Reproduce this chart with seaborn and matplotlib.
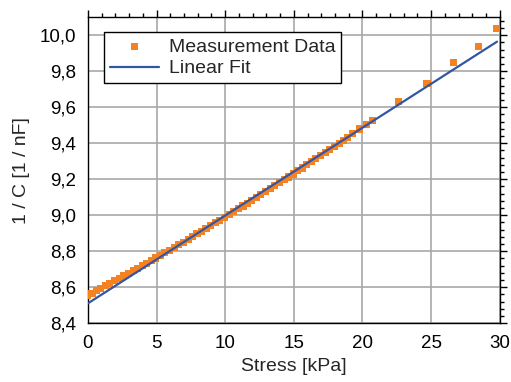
import seaborn as sns
import pandas as pd
import matplotlib.pyplot as plt
from matplotlib.ticker import MultipleLocator, FuncFormatter

stress = [0.0, 0.3, 0.6, 0.95, 1.3, 1.6, 1.95, 2.3, 2.6, 2.95, 3.3, 3.6, 3.95, 4.3, 4.6, 4.95,
          5.3, 5.6, 5.95, 6.3, 6.6, 6.95, 7.3, 7.6, 7.95, 8.3, 8.6, 8.95, 9.3, 9.6, 9.95,
          10.3, 10.6, 10.95, 11.3, 11.6, 11.95, 12.3, 12.6, 12.95, 13.3, 13.6, 13.95, 14.3,
          14.6, 14.95, 15.3, 15.6, 15.95, 16.3, 16.6, 16.95, 17.3, 17.6, 17.95, 18.3, 18.6,
          18.9, 19.3, 19.8, 20.3, 20.7, 22.6, 24.7, 26.6, 28.45, 29.8]
inv_c = [8.555, 8.567, 8.579, 8.594, 8.608, 8.620, 8.635, 8.649, 8.662, 8.677, 8.691, 8.704,
         8.719, 8.734, 8.747, 8.762, 8.777, 8.791, 8.806, 8.822, 8.835, 8.850, 8.866, 8.880,
         8.896, 8.911, 8.925, 8.941, 8.957, 8.971, 8.988, 9.004, 9.018, 9.035, 9.051, 9.066,
         9.082, 9.099, 9.114, 9.131, 9.148, 9.163, 9.180, 9.197, 9.212, 9.229, 9.247, 9.262,
         9.280, 9.297, 9.313, 9.331, 9.349, 9.364, 9.382, 9.400, 9.416, 9.432, 9.453, 9.479,
         9.506, 9.528, 9.630, 9.730, 9.846, 9.935, 10.035]

# linear fit end points
fit_x = [0.0, 29.8]
fit_y = [8.51, 9.964]

df = pd.DataFrame({"Stress": stress, "invC": inv_c})
df_fit = pd.DataFrame({"Stress": fit_x, "invC": fit_y})

sns.set_style("white")
plt.rcParams['font.family'] = ['Liberation Sans', 'DejaVu Sans']

fig = plt.figure(figsize=(5.11, 3.82), dpi=100)
ax = fig.add_axes([0.172, 0.154, 0.806, 0.801])
ax.grid(True, which="major", color="#a8a8a8", linewidth=1.2, zorder=0)
ax.set_axisbelow(True)

sns.scatterplot(data=df, x="Stress", y="invC", ax=ax, marker="s", s=26, color="#f58220",
                edgecolor="none", label="Measurement Data", zorder=3)
sns.lineplot(data=df_fit, x="Stress", y="invC", ax=ax, color="#3355a5", linewidth=1.6,
             label="Linear Fit", zorder=4)

ax.set_xlim(0, 30)
ax.set_ylim(8.4, 10.1)
ax.xaxis.set_major_locator(MultipleLocator(5))
ax.xaxis.set_minor_locator(MultipleLocator(1))
ax.yaxis.set_major_locator(MultipleLocator(0.2))
ax.yaxis.set_minor_locator(MultipleLocator(0.04))
ax.yaxis.set_major_formatter(FuncFormatter(lambda v, p: f"{v:.1f}".replace(".", ",")))
ax.tick_params(which="both", direction="out", top=True, right=True, colors="black",
               labelsize=13.5, width=1)
ax.tick_params(which="major", length=5)
ax.tick_params(which="minor", length=3)
for s in ax.spines.values():
    s.set_color("black")
    s.set_linewidth(1)

ax.set_xlabel("Stress [kPa]", fontsize=14, labelpad=4)
ax.set_ylabel("1 / C [1 / nF]", fontsize=14, labelpad=7)

leg = ax.legend(loc="upper left", bbox_to_anchor=(0.04, 0.95), borderaxespad=0, fontsize=14,
                frameon=True, fancybox=False, shadow=False, edgecolor="black",
                handlelength=2.5, handletextpad=0.5, markerscale=1.0, borderpad=0.3,
                labelspacing=0.2)
leg.get_frame().set_linewidth(1)
leg.get_frame().set_alpha(1)

fig.savefig("out.png", dpi=100)
